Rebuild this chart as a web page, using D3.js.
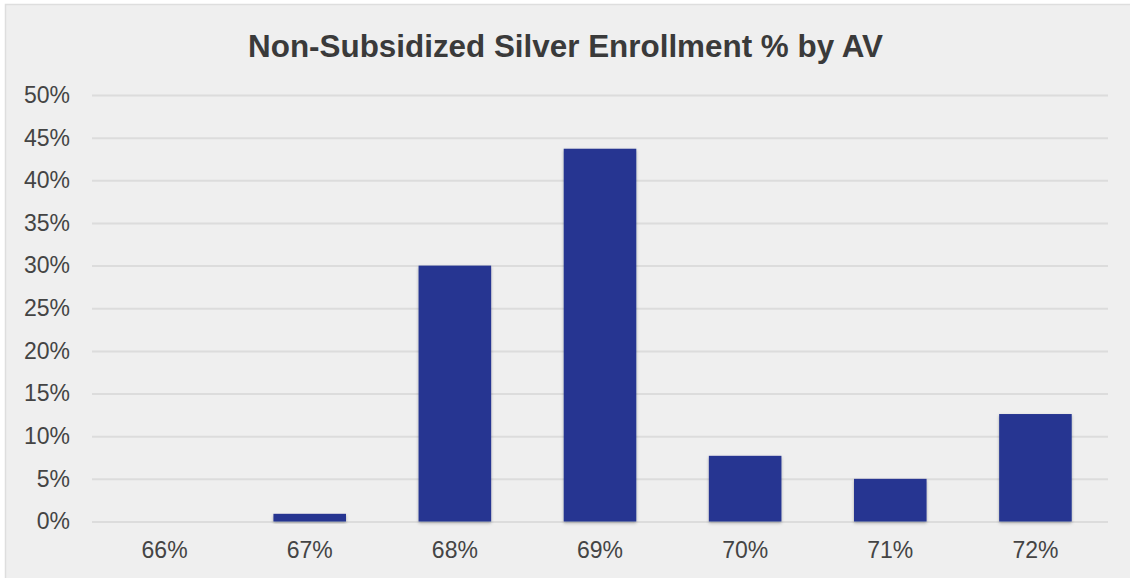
<!DOCTYPE html>
<html><head><meta charset="utf-8">
<script src="https://cdn.jsdelivr.net/npm/d3@7"></script>
<style>html,body{margin:0;padding:0;background:#fff;}svg{display:block;}</style>
</head><body>
<svg id="chart" width="1130" height="578"></svg>
<script>
const title = "Non-Subsidized Silver Enrollment % by AV";
const categories = ["66%","67%","68%","69%","70%","71%","72%"];
const values = [0, 0.9, 30.0, 43.7, 7.7, 5.0, 12.6];
const yTicks = [0,5,10,15,20,25,30,35,40,45,50];

const svg = d3.select("#chart");
const W = 1130, H = 578;
const font = "'Liberation Sans', Arial, sans-serif";

svg.append("rect").attr("x",5.5).attr("y",4.5).attr("width",W).attr("height",H)
  .attr("fill","#efefef").attr("stroke","#dedede").attr("stroke-width",1.5);

const defs = svg.append("defs");
const f = defs.append("filter").attr("id","sh").attr("x","-10%").attr("y","-10%").attr("width","120%").attr("height","130%");
f.append("feDropShadow").attr("dx",0).attr("dy",1.5).attr("stdDeviation",1.5).attr("flood-color","#000").attr("flood-opacity",0.3);

const x = d3.scaleBand().domain(categories).range([92,1108]).paddingInner(0.5).paddingOuter(0.25);
const y = d3.scaleLinear().domain([0,50]).range([521.5,95]);

svg.append("text").attr("x",565.5).attr("y",56.5).attr("text-anchor","middle")
  .attr("font-family",font).attr("font-weight","bold").attr("font-size",31.4)
  .attr("fill","#3a3a3a").text(title);

const yAxis = d3.axisLeft(y).tickValues(yTicks).tickFormat(d=>d+"%").tickSize(-(1108-92)).tickPadding(22);
const gy = svg.append("g").attr("transform","translate(92,0)").call(yAxis);
gy.select(".domain").remove();
gy.selectAll(".tick line").attr("stroke","#dcdcdc").attr("stroke-width",2);
gy.selectAll(".tick text").attr("font-family",font).attr("font-size",23).attr("fill","#444").attr("x",-22);

const xAxis = d3.axisBottom(x).tickSize(0).tickPadding(20);
const gx = svg.append("g").attr("transform","translate(0,521.5)").call(xAxis);
gx.select(".domain").remove();
gx.selectAll(".tick text").attr("font-family",font).attr("font-size",23).attr("fill","#444");

svg.append("g").selectAll("rect").data(values).join("rect")
  .attr("x",(d,i)=>x(categories[i]))
  .attr("width",x.bandwidth())
  .attr("y",d=>y(d))
  .attr("height",d=>y(0)-y(d))
  .attr("fill","#263691")
  .attr("filter",d=>d>0?"url(#sh)":null);
</script>
</body></html>
